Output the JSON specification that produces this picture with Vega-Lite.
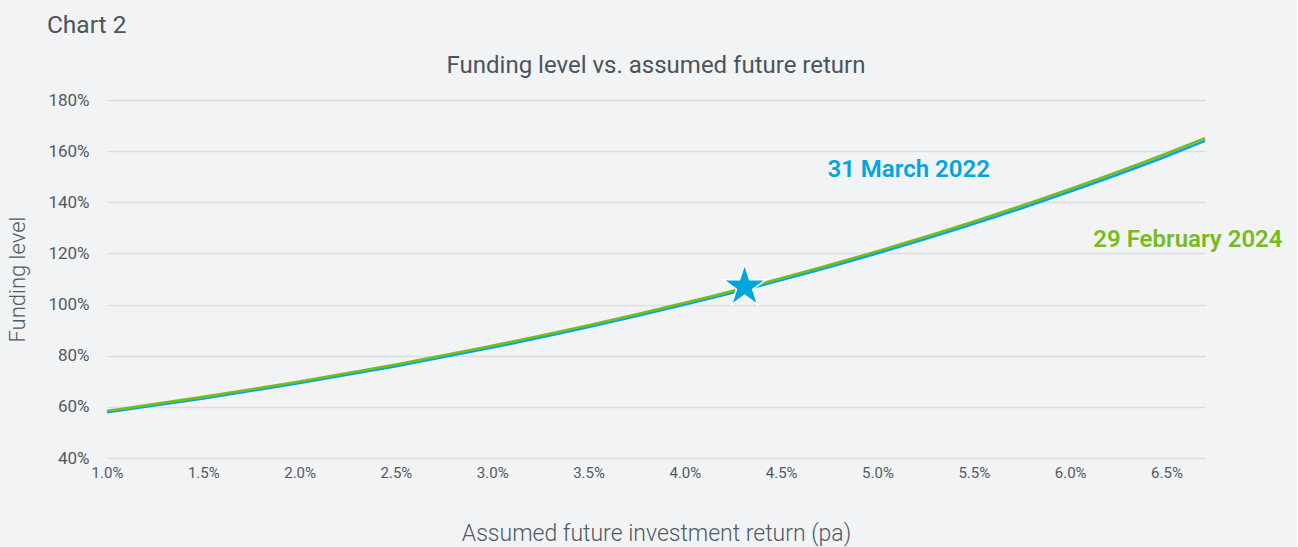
{
  "$schema": "https://vega.github.io/schema/vega-lite/v6.json",
  "background": "#f2f3f5",
  "padding": {"left": 6, "top": 13, "right": 14, "bottom": 3},
  "title": {"text": "Chart 2", "anchor": "start", "frame": "bounds", "dx": 40, "fontSize": 24.5, "font": "Roboto", "fontWeight": 400, "color": "#4b545c", "offset": 15},
  "config": {
    "view": {"stroke": null},
    "font": "Roboto",
    "axis": {"labelFont": "Roboto", "titleFont": "Roboto", "labelColor": "#505a63", "titleColor": "#505a63", "titleFontWeight": 300, "domain": false, "ticks": false, "labelFlush": false}
  },
  "datasets": {
    "curves": [
      {"ret": 1.0, "level": 57.9, "date": "31 March 2022"},
      {"ret": 1.5, "level": 63.3, "date": "31 March 2022"},
      {"ret": 2.0, "level": 69.3, "date": "31 March 2022"},
      {"ret": 2.5, "level": 75.9, "date": "31 March 2022"},
      {"ret": 3.0, "level": 83.2, "date": "31 March 2022"},
      {"ret": 3.5, "level": 91.2, "date": "31 March 2022"},
      {"ret": 4.0, "level": 100.0, "date": "31 March 2022"},
      {"ret": 4.5, "level": 109.6, "date": "31 March 2022"},
      {"ret": 5.0, "level": 120.1, "date": "31 March 2022"},
      {"ret": 5.5, "level": 131.6, "date": "31 March 2022"},
      {"ret": 6.0, "level": 144.2, "date": "31 March 2022"},
      {"ret": 6.5, "level": 158.0, "date": "31 March 2022"},
      {"ret": 6.7, "level": 164.0, "date": "31 March 2022"},
      {"ret": 1.0, "level": 58.4, "date": "29 February 2024"},
      {"ret": 1.5, "level": 63.9, "date": "29 February 2024"},
      {"ret": 2.0, "level": 69.9, "date": "29 February 2024"},
      {"ret": 2.5, "level": 76.6, "date": "29 February 2024"},
      {"ret": 3.0, "level": 83.9, "date": "29 February 2024"},
      {"ret": 3.5, "level": 91.9, "date": "29 February 2024"},
      {"ret": 4.0, "level": 100.7, "date": "29 February 2024"},
      {"ret": 4.5, "level": 110.3, "date": "29 February 2024"},
      {"ret": 5.0, "level": 120.9, "date": "29 February 2024"},
      {"ret": 5.5, "level": 132.5, "date": "29 February 2024"},
      {"ret": 6.0, "level": 145.2, "date": "29 February 2024"},
      {"ret": 6.5, "level": 159.1, "date": "29 February 2024"},
      {"ret": 6.7, "level": 165.1, "date": "29 February 2024"}
    ],
    "labels": [
      {"ret": 4.74, "level": 152.6, "date": "31 March 2022"},
      {"ret": 6.12, "level": 125.3, "date": "29 February 2024"}
    ],
    "star": [
      {"ret": 4.31, "level": 107.0, "date": "31 March 2022"}
    ]
  },
  "vconcat": [
    {
      "width": 1098,
      "height": 358,
      "title": {"text": "Funding level vs. assumed future return", "anchor": "middle", "frame": "group", "fontSize": 24, "fontWeight": 400, "color": "#4b545c", "offset": 13.5},
      "layer": [
        {
          "data": {"name": "curves"},
          "mark": {"type": "line", "interpolate": "monotone", "strokeWidth": 2.6, "clip": false},
          "encoding": {
            "x": {"field": "ret", "type": "quantitative", "scale": {"domain": [1, 6.7], "nice": false, "zero": false},
              "axis": {"title": "Assumed future investment return (pa)", "titleFontSize": 23, "titlePadding": 42, "labelFontSize": 15, "labelPadding": 7, "grid": false,
                "values": [1, 1.5, 2, 2.5, 3, 3.5, 4, 4.5, 5, 5.5, 6, 6.5], "labelExpr": "format(datum.value, '.1f') + '%'"}},
            "y": {"field": "level", "type": "quantitative", "scale": {"domain": [40, 180], "nice": false, "zero": false},
              "axis": {"title": "Funding level", "titleFontSize": 22, "titlePadding": 18, "labelFontSize": 17, "labelPadding": 18,
                "values": [40, 60, 80, 100, 120, 140, 160, 180], "labelExpr": "format(datum.value, 'd') + '%'",
                "grid": true, "gridColor": "#dcdde1", "gridWidth": 1.5}},
            "color": {"field": "date", "type": "nominal", "scale": {"domain": ["31 March 2022", "29 February 2024"], "range": ["#00a6dc", "#77bc1f"]}, "legend": null}
          }
        },
        {
          "data": {"name": "star"},
          "mark": {"type": "point", "filled": true, "shape": "M0,-1 L0.225,-0.309 L0.951,-0.309 L0.363,0.118 L0.588,0.809 L0,0.382 L-0.588,0.809 L-0.363,0.118 L-0.951,-0.309 L-0.225,-0.309 Z", "size": 2000, "stroke": "#ffffff", "strokeWidth": 1.5, "opacity": 1, "clip": false},
          "encoding": {
            "x": {"field": "ret", "type": "quantitative"},
            "y": {"field": "level", "type": "quantitative"},
            "fill": {"field": "date", "type": "nominal", "scale": {"domain": ["31 March 2022", "29 February 2024"], "range": ["#00a6dc", "#77bc1f"]}, "legend": null}
          }
        },
        {
          "data": {"name": "labels"},
          "mark": {"type": "text", "align": "left", "baseline": "middle", "fontSize": 24, "fontWeight": 600, "font": "Roboto"},
          "encoding": {
            "x": {"field": "ret", "type": "quantitative"},
            "y": {"field": "level", "type": "quantitative"},
            "text": {"field": "date", "type": "nominal"},
            "color": {"field": "date", "type": "nominal", "legend": null}
          }
        }
      ]
    }
  ]
}
